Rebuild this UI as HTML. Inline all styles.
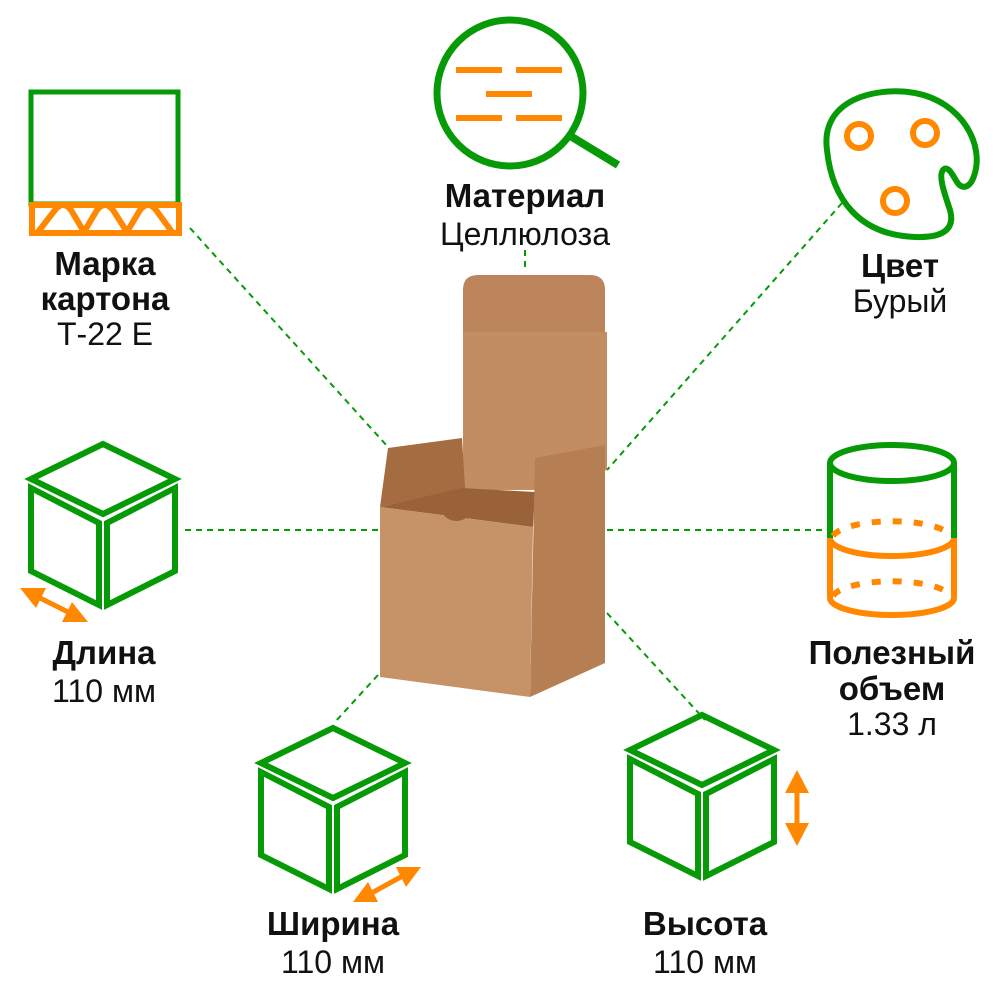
<!DOCTYPE html>
<html><head><meta charset="utf-8"><style>
html,body{margin:0;padding:0;background:#fff;}
svg{display:block}
text{font-family:"Liberation Sans",Arial,sans-serif;fill:#111;text-anchor:middle}
.b{font-weight:bold;font-size:33px}
.r{font-size:32px}
</style></head><body>
<svg width="1000" height="1000" viewBox="0 0 1000 1000" xmlns="http://www.w3.org/2000/svg">
<defs>
<g id="cube" fill="none" stroke="#079a07" stroke-width="6" stroke-linejoin="miter">
<polygon points="76,3 4,38 76,73 148,38"/>
<polygon points="4,47 72,82 72,164 4,130"/>
<polygon points="148,47 80,82 80,164 148,130"/>
</g>
</defs>
<g stroke="#079a07" stroke-width="2" stroke-dasharray="6,5" fill="none">
<line x1="190" y1="228" x2="388" y2="447"/>
<line x1="525" y1="250" x2="525" y2="272"/>
<line x1="842" y1="203" x2="607" y2="470"/>
<line x1="185" y1="530" x2="378" y2="530"/>
<line x1="607" y1="530" x2="828" y2="530"/>
<line x1="378" y1="675" x2="335" y2="722"/>
<line x1="607" y1="613" x2="705" y2="720"/>
</g>
<path d="M463,333 L463,290 Q463,275 478,275 L590,275 Q605,275 605,290 L605,333 Z" fill="#bb845a"/>
<polygon points="463,332 607,332 607,470 535,490 463,490" fill="#c28d62"/>
<polygon points="388,448 462,438 465,488 380,507" fill="#a46c40"/>
<polygon points="462,488 535,492 533,527 380,507" fill="#9a6238"/>
<polygon points="535,458 605,445 605,663 530,697" fill="#b67e53"/>
<polygon points="380,507 533,527 530,697 380,677" fill="#c69368"/>
<path d="M440,508 A17,17 0 0 0 472,511 Z" fill="#9a6238"/>
<rect x="31" y="92" width="147" height="112" fill="none" stroke="#079a07" stroke-width="5"/>
<rect x="32" y="205" width="147" height="28" fill="#fff" stroke="#ff8800" stroke-width="6"/>
<path d="M38,232 L55,210 Q63,200 71,210 L84,232 L97,210 Q105,200 113,210 L127,232 L140,210 Q148,200 156,210 L172,232" fill="none" stroke="#ff8800" stroke-width="6" stroke-linejoin="round"/>
<circle cx="510" cy="93" r="73" fill="none" stroke="#079a07" stroke-width="7"/>
<line x1="572" y1="137" x2="618" y2="165" stroke="#079a07" stroke-width="8"/>
<g stroke="#ff8800" stroke-width="6">
<line x1="456" y1="70" x2="502" y2="70"/><line x1="516" y1="70" x2="562" y2="70"/>
<line x1="486" y1="94" x2="532" y2="94"/>
<line x1="456" y1="118" x2="502" y2="118"/><line x1="516" y1="118" x2="562" y2="118"/>
</g>
<path d="M827,150 C820,100 875,86 915,93 C962,102 985,145 974,176 C970,188 962,190 957,182 C952,174 948,165 943,170 C938,176 945,195 950,210 C955,228 945,238 915,237 C860,235 832,200 827,150 Z" fill="none" stroke="#079a07" stroke-width="6"/>
<g fill="none" stroke="#ff8800" stroke-width="6">
<circle cx="859" cy="136" r="12"/><circle cx="925" cy="133" r="12"/><circle cx="895" cy="201" r="12"/>
</g>
<g fill="none" stroke-width="6">
<ellipse cx="892" cy="463" rx="62" ry="18" stroke="#079a07"/>
<path d="M830,463 L830,538 M954,463 L954,538" stroke="#079a07"/>
<path d="M833,536 A60,18 0 0 1 951,536" stroke="#ff8800" stroke-dasharray="9,12"/>
<path d="M830,538 A62,18 0 0 0 954,538 M830,538 L830,598 A62,17 0 0 0 954,598 L954,538" stroke="#ff8800"/>
<path d="M833,596 A60,18 0 0 1 951,596" stroke="#ff8800" stroke-dasharray="9,12"/>
</g>
<use href="#cube" x="27" y="441"/>
<use href="#cube" x="257" y="725"/>
<use href="#cube" x="626" y="712"/>
<g fill="#ff8800" stroke="#ff8800">
<line x1="32" y1="594" x2="76" y2="616" stroke-width="5"/>
<polygon points="20,588 46,588 36,608" stroke="none"/>
<polygon points="88,622 62,622 72,602" stroke="none"/>
<line x1="368" y1="895" x2="408" y2="873" stroke-width="5"/>
<polygon points="353,902 378,902 368,882" stroke="none"/>
<polygon points="421,867 396,867 406,887" stroke="none"/>
<line x1="797" y1="782" x2="797" y2="833" stroke-width="5"/>
<polygon points="797,770 785,793 809,793" stroke="none"/>
<polygon points="797,846 785,823 809,823" stroke="none"/>
</g>
<text class="b" x="105" y="275">Марка</text>
<text class="b" x="105" y="310">картона</text>
<text class="r" x="105" y="345">Т-22 Е</text>
<text class="b" x="525" y="207">Материал</text>
<text class="r" x="525" y="245">Целлюлоза</text>
<text class="b" x="900" y="277">Цвет</text>
<text class="r" x="900" y="312">Бурый</text>
<text class="b" x="104" y="664">Длина</text>
<text class="r" x="104" y="702">110 мм</text>
<text class="b" x="892" y="664">Полезный</text>
<text class="b" x="892" y="700">объем</text>
<text class="r" x="892" y="735">1.33 л</text>
<text class="b" x="333" y="935">Ширина</text>
<text class="r" x="333" y="973">110 мм</text>
<text class="b" x="705" y="935">Высота</text>
<text class="r" x="705" y="973">110 мм</text>
</svg>
</body></html>
